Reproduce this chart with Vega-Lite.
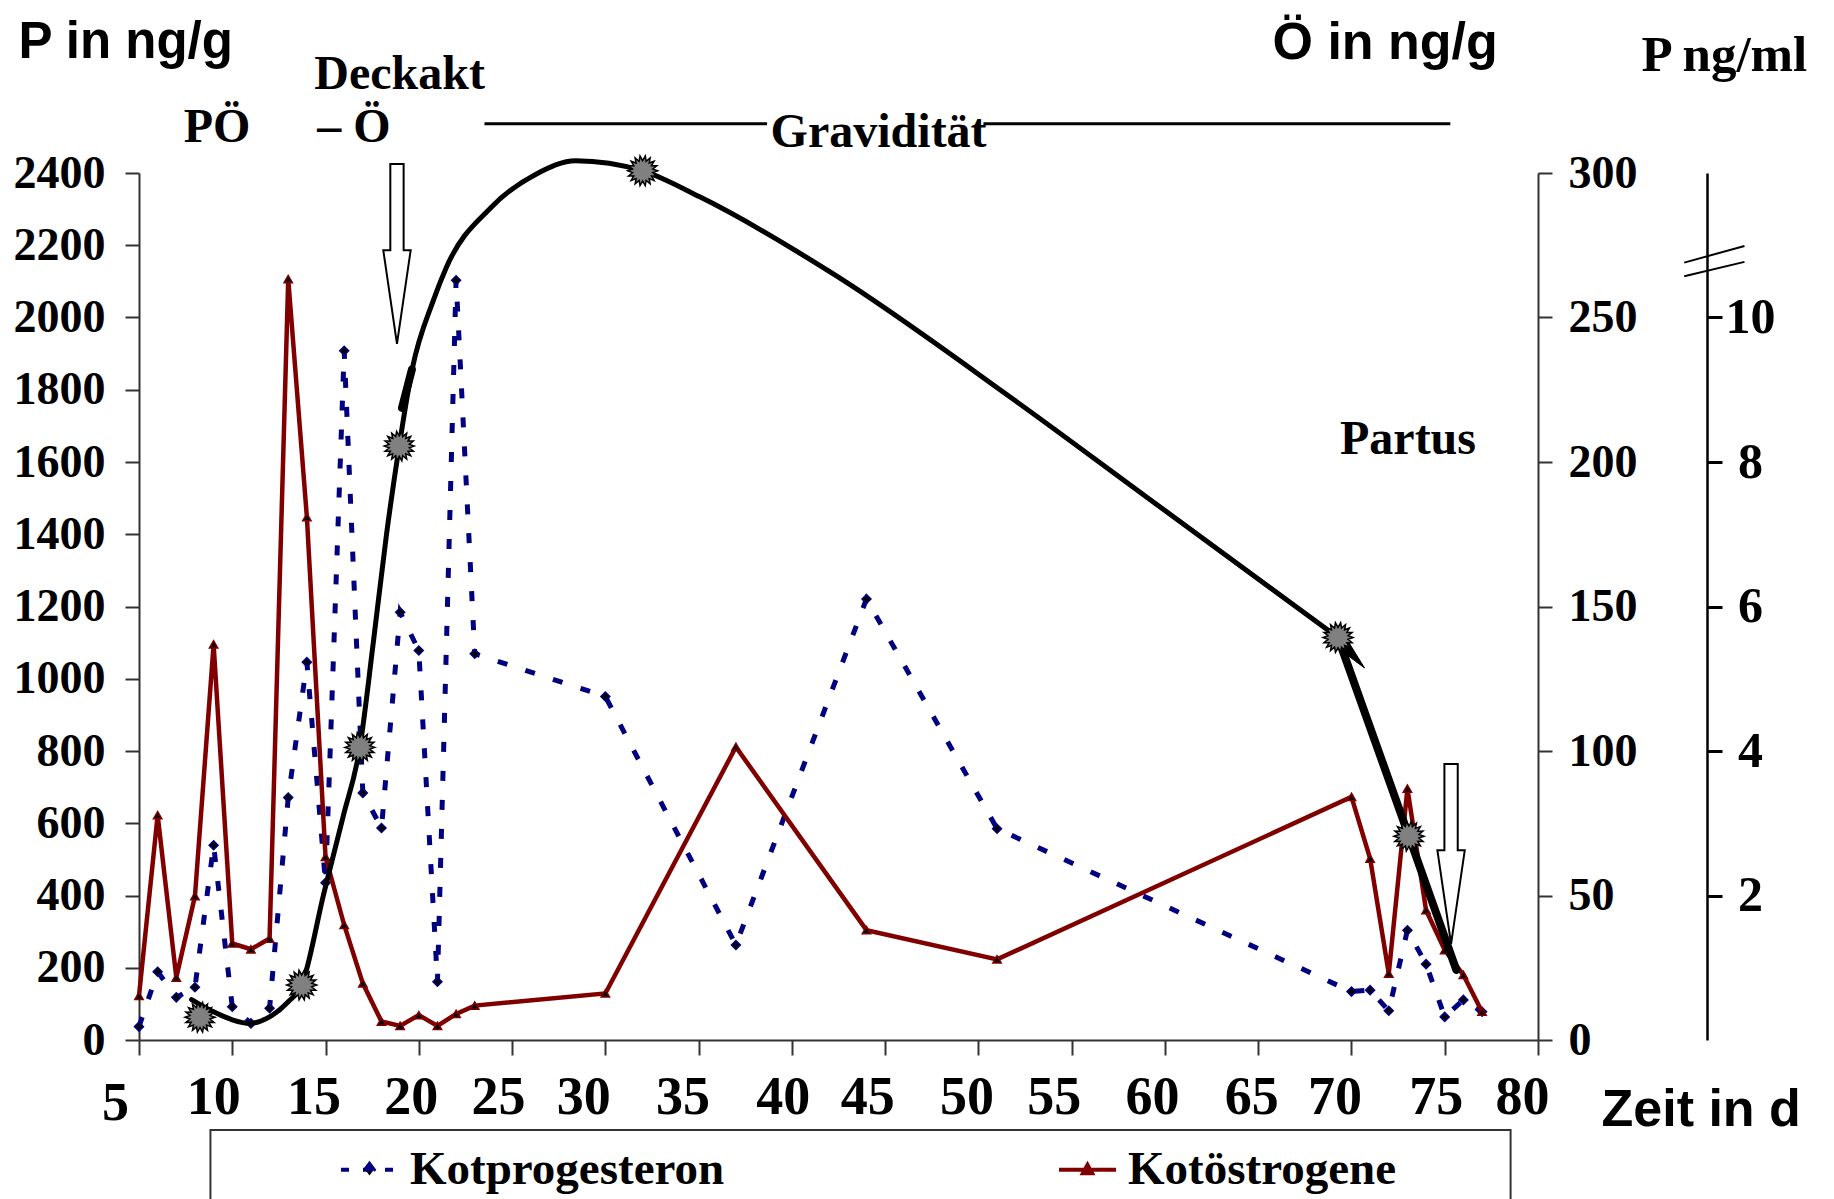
{
  "$schema": "https://vega.github.io/schema/vega-lite/v6.json",
  "width": 1399,
  "height": 867,
  "autosize": {"type": "none"},
  "padding": {"left": 139, "top": 173, "right": 296, "bottom": 159},
  "background": "white",
  "config": {"view": {"stroke": null}, "axis": {"grid": false}},
  "datasets": {
    "kp": [
      {"day": 5, "p": 37, "series": "Kotprogesteron"},
      {"day": 6, "p": 189, "series": "Kotprogesteron"},
      {"day": 7, "p": 118, "series": "Kotprogesteron"},
      {"day": 8, "p": 146, "series": "Kotprogesteron"},
      {"day": 9, "p": 539, "series": "Kotprogesteron"},
      {"day": 10, "p": 92, "series": "Kotprogesteron"},
      {"day": 11, "p": 46, "series": "Kotprogesteron"},
      {"day": 12, "p": 88, "series": "Kotprogesteron"},
      {"day": 13, "p": 671, "series": "Kotprogesteron"},
      {"day": 14, "p": 1046, "series": "Kotprogesteron"},
      {"day": 15, "p": 435, "series": "Kotprogesteron"},
      {"day": 16, "p": 1908, "series": "Kotprogesteron"},
      {"day": 17, "p": 684, "series": "Kotprogesteron"},
      {"day": 18, "p": 587, "series": "Kotprogesteron"},
      {"day": 19, "p": 1184, "series": "Kotprogesteron"},
      {"day": 20, "p": 1078, "series": "Kotprogesteron"},
      {"day": 21, "p": 161, "series": "Kotprogesteron"},
      {"day": 22, "p": 2103, "series": "Kotprogesteron"},
      {"day": 23, "p": 1069, "series": "Kotprogesteron"},
      {"day": 30, "p": 951, "series": "Kotprogesteron"},
      {"day": 37, "p": 263, "series": "Kotprogesteron"},
      {"day": 44, "p": 1221, "series": "Kotprogesteron"},
      {"day": 51, "p": 585, "series": "Kotprogesteron"},
      {"day": 70, "p": 134, "series": "Kotprogesteron"},
      {"day": 71, "p": 138, "series": "Kotprogesteron"},
      {"day": 72, "p": 81, "series": "Kotprogesteron"},
      {"day": 73, "p": 304, "series": "Kotprogesteron"},
      {"day": 74, "p": 210, "series": "Kotprogesteron"},
      {"day": 75, "p": 64, "series": "Kotprogesteron"},
      {"day": 76, "p": 111, "series": "Kotprogesteron"},
      {"day": 77, "p": 78, "series": "Kotprogesteron"}
    ],
    "koe": [
      {"day": 5, "oe": 15.3, "series": "Kotöstrogene"},
      {"day": 6, "oe": 77.8, "series": "Kotöstrogene"},
      {"day": 7, "oe": 21.6, "series": "Kotöstrogene"},
      {"day": 8, "oe": 49.8, "series": "Kotöstrogene"},
      {"day": 9, "oe": 136.9, "series": "Kotöstrogene"},
      {"day": 10, "oe": 33.4, "series": "Kotöstrogene"},
      {"day": 11, "oe": 31.4, "series": "Kotöstrogene"},
      {"day": 12, "oe": 35.1, "series": "Kotöstrogene"},
      {"day": 13, "oe": 263.3, "series": "Kotöstrogene"},
      {"day": 14, "oe": 180.9, "series": "Kotöstrogene"},
      {"day": 15, "oe": 63.4, "series": "Kotöstrogene"},
      {"day": 16, "oe": 39.8, "series": "Kotöstrogene"},
      {"day": 17, "oe": 19.6, "series": "Kotöstrogene"},
      {"day": 18, "oe": 6.4, "series": "Kotöstrogene"},
      {"day": 19, "oe": 4.9, "series": "Kotöstrogene"},
      {"day": 20, "oe": 8.6, "series": "Kotöstrogene"},
      {"day": 21, "oe": 4.9, "series": "Kotöstrogene"},
      {"day": 22, "oe": 9.0, "series": "Kotöstrogene"},
      {"day": 23, "oe": 11.9, "series": "Kotöstrogene"},
      {"day": 30, "oe": 16.1, "series": "Kotöstrogene"},
      {"day": 37, "oe": 101.4, "series": "Kotöstrogene"},
      {"day": 44, "oe": 38.0, "series": "Kotöstrogene"},
      {"day": 51, "oe": 27.9, "series": "Kotöstrogene"},
      {"day": 70, "oe": 84.1, "series": "Kotöstrogene"},
      {"day": 71, "oe": 62.8, "series": "Kotöstrogene"},
      {"day": 72, "oe": 23.0, "series": "Kotöstrogene"},
      {"day": 73, "oe": 87.0, "series": "Kotöstrogene"},
      {"day": 74, "oe": 44.9, "series": "Kotöstrogene"},
      {"day": 75, "oe": 31.1, "series": "Kotöstrogene"},
      {"day": 76, "oe": 22.5, "series": "Kotöstrogene"},
      {"day": 77, "oe": 9.8, "series": "Kotöstrogene"}
    ],
    "curve": [
      {"day": 7.82, "pml": 0.56},
      {"day": 9.0, "pml": 0.39},
      {"day": 10.0, "pml": 0.28},
      {"day": 10.95, "pml": 0.23},
      {"day": 12.0, "pml": 0.32},
      {"day": 13.0, "pml": 0.53},
      {"day": 13.72, "pml": 0.76},
      {"day": 14.91, "pml": 2.03},
      {"day": 15.95, "pml": 3.1},
      {"day": 16.84, "pml": 4.05},
      {"day": 17.56, "pml": 5.5},
      {"day": 18.27, "pml": 7.0},
      {"day": 18.95, "pml": 8.22},
      {"day": 19.65, "pml": 9.29},
      {"day": 20.77, "pml": 10.23},
      {"day": 21.47, "pml": 10.69},
      {"day": 23.86, "pml": 11.52},
      {"day": 26.26, "pml": 11.98},
      {"day": 28.41, "pml": 12.17},
      {"day": 32.0, "pml": 12.03},
      {"day": 35.06, "pml": 11.67},
      {"day": 42.24, "pml": 10.6},
      {"day": 51.7, "pml": 8.9},
      {"day": 58.99, "pml": 7.52},
      {"day": 69.28, "pml": 5.57}
    ],
    "thick": [
      {"day": 19.1, "pml": 8.75, "part": "a"},
      {"day": 19.63, "pml": 9.28, "part": "a"},
      {"day": 69.28, "pml": 5.57, "part": "b"},
      {"day": 73.08, "pml": 2.82, "part": "b"},
      {"day": 75.62, "pml": 0.97, "part": "b"}
    ],
    "stars": [
      {"day": 8.27, "pml": 0.315},
      {"day": 13.72, "pml": 0.76},
      {"day": 16.84, "pml": 4.05},
      {"day": 18.95, "pml": 8.22},
      {"day": 32.0, "pml": 12.03},
      {"day": 69.28, "pml": 5.57},
      {"day": 73.08, "pml": 2.82}
    ],
    "tip": [
      {"day": 70.0, "pml": 5.33}
    ],
    "arrows": [
      {"day": 18.83, "p": 2176},
      {"day": 75.34, "p": 515}
    ],
    "labels": [
      {"day": 18.97, "p": 2632, "t": "Deckakt"},
      {"day": 9.18, "p": 2487, "t": "PÖ"},
      {"day": 16.52, "p": 2487, "t": "–  Ö"},
      {"day": 44.65, "p": 2473, "t": "Gravidität"},
      {"day": 73.03, "p": 1622, "t": "Partus"}
    ],
    "gravlines": [
      {"day": 23.52, "day2": 38.67, "p": 2536},
      {"day": 50.27, "day2": 75.3, "p": 2536}
    ],
    "legendbox": [
      {"day": 8.83, "day2": 78.53, "p": -249, "p2": -700}
    ],
    "breakmark": [
      {"day": 87.84, "day2": 91.07, "pml": 10.76, "pml2": 10.99},
      {"day": 87.84, "day2": 91.07, "pml": 10.57, "pml2": 10.77}
    ]
  },
  "encoding": {
    "x": {
      "field": "day", "type": "quantitative",
      "scale": {"domain": [5, 80], "nice": false},
      "axis": {
        "values": [5, 10, 15, 20, 25, 30, 35, 40, 45, 50, 55, 60, 65, 70, 75, 80],
        "title": "Zeit in d",
        "tickSize": 15, "tickWidth": 2, "tickColor": "#333",
        "domainColor": "#333", "domainWidth": 2,
        "labelFont": "Liberation Serif", "labelFontWeight": "bold", "labelFontSize": 54, "labelColor": "black",
        "labelPadding": {"condition": {"test": "datum.value == 5", "value": 21}, "value": 15},
        "labelOffset": {
          "condition": [
            {"test": "datum.value == 5", "value": -24},
            {"test": "datum.value == 10", "value": -19},
            {"test": "datum.value == 15", "value": -12},
            {"test": "datum.value == 20", "value": -8},
            {"test": "datum.value == 25", "value": -14},
            {"test": "datum.value == 30", "value": -22},
            {"test": "datum.value == 35", "value": -16},
            {"test": "datum.value == 40", "value": -9},
            {"test": "datum.value == 45", "value": -18},
            {"test": "datum.value == 50", "value": -12},
            {"test": "datum.value == 55", "value": -18},
            {"test": "datum.value == 60", "value": -13},
            {"test": "datum.value == 65", "value": -7},
            {"test": "datum.value == 70", "value": -17},
            {"test": "datum.value == 75", "value": -9}
          ],
          "value": -16
        },
        "labelFlush": false, "labelOverlap": false, "labelBound": false,
        "titleFont": "Liberation Sans", "titleFontWeight": "bold", "titleFontSize": 52, "titleColor": "black",
        "titleX": 1462, "titleY": 85, "titleAlign": "left", "titleBaseline": "alphabetic"
      }
    }
  },
  "layer": [
    {
      "encoding": {
        "y": {
          "field": "p", "type": "quantitative",
          "scale": {"domain": [0, 2400], "nice": false},
          "axis": {
            "orient": "left",
            "values": [0, 200, 400, 600, 800, 1000, 1200, 1400, 1600, 1800, 2000, 2200, 2400],
            "format": "d",
            "tickSize": 14, "tickWidth": 2, "tickColor": "#333",
            "domainColor": "#333", "domainWidth": 2,
            "labelFont": "Liberation Serif", "labelFontWeight": "bold", "labelFontSize": 46, "labelColor": "black",
            "labelPadding": 20, "labelFlush": false, "labelOverlap": false,
            "title": "P in ng/g",
            "titleFont": "Liberation Sans", "titleFontWeight": "bold", "titleFontSize": 51, "titleColor": "black",
            "titleAngle": 0, "titleX": -121, "titleY": -116, "titleAlign": "left", "titleBaseline": "alphabetic"
          }
        }
      },
      "layer": [
        {
          "data": {"name": "kp"},
          "mark": {"type": "line", "strokeWidth": 5, "strokeDash": [10, 19], "strokeCap": "butt"},
          "encoding": {
            "color": {
              "field": "series", "type": "nominal",
              "scale": {"domain": ["Kotprogesteron", "Kotöstrogene"], "range": ["#000080", "#800000"]},
              "legend": {
                "title": null, "orient": "none", "legendX": 200, "legendY": 966, "direction": "horizontal",
                "columnPadding": 326, "padding": 0, "labelOffset": 10, "labelLimit": 0,
                "labelFont": "Liberation Serif", "labelFontWeight": "bold", "labelFontSize": 47, "labelColor": "black",
                "symbolSize": 3249, "symbolStrokeWidth": 4, "symbolType": "stroke",
                "encode": {
                  "symbols": {
                    "update": {
                      "shape": [
                        {"test": "datum.value === 'Kotprogesteron'", "value": "M-1,0L1,0M0,-0.2L0.15,0L0,0.2L-0.15,0Z"},
                        {"value": "M-1,0L1,0M0,-0.17L0.16,0.12L-0.16,0.12Z"}
                      ],
                      "strokeDash": [
                        {"test": "datum.value === 'Kotprogesteron'", "value": [8, 14]},
                        {"value": [1, 0]}
                      ],
                      "fill": {"value": "black"}
                    }
                  }
                }
              }
            }
          }
        },
        {
          "data": {"name": "kp"},
          "mark": {"type": "point", "shape": "diamond", "filled": true, "fill": "black", "stroke": "#000080", "strokeWidth": 1.5, "size": 80, "opacity": 1}
        },
        {
          "data": {"name": "gravlines"},
          "mark": {"type": "rule", "strokeWidth": 3, "color": "black"},
          "encoding": {"x2": {"field": "day2"}}
        },
        {
          "data": {"name": "labels"},
          "mark": {"type": "text", "font": "Liberation Serif", "fontWeight": "bold", "fontSize": 48, "align": "center", "baseline": "alphabetic", "color": "black"},
          "encoding": {"text": {"field": "t"}}
        },
        {
          "data": {"name": "arrows"},
          "mark": {"type": "point", "shape": "M-0.074,-1L0.074,-1L0.074,-0.04L0.152,-0.04L0,1L-0.152,-0.04L-0.074,-0.04Z", "size": 32400, "filled": true, "fill": "white", "stroke": "black", "strokeWidth": 2, "opacity": 1}
        },
        {
          "data": {"name": "legendbox"},
          "mark": {"type": "rect", "fill": "transparent", "stroke": "#333", "strokeWidth": 2},
          "encoding": {"x2": {"field": "day2"}, "y2": {"field": "p2"}}
        }
      ]
    },
    {
      "encoding": {
        "y": {
          "field": "oe", "type": "quantitative",
          "scale": {"domain": [0, 300], "nice": false},
          "axis": {
            "orient": "right",
            "values": [0, 50, 100, 150, 200, 250, 300],
            "format": "d",
            "tickSize": 14, "tickWidth": 2, "tickColor": "#333",
            "domainColor": "#333", "domainWidth": 2,
            "labelFont": "Liberation Serif", "labelFontWeight": "bold", "labelFontSize": 46, "labelColor": "black",
            "labelPadding": 16, "labelFlush": false, "labelOverlap": false,
            "title": "Ö in ng/g",
            "titleFont": "Liberation Sans", "titleFontWeight": "bold", "titleFontSize": 52, "titleColor": "black",
            "titleAngle": 0, "titleX": -266, "titleY": -115, "titleAlign": "left", "titleBaseline": "alphabetic"
          }
        }
      },
      "layer": [
        {
          "data": {"name": "koe"},
          "mark": {"type": "line", "strokeWidth": 4.5, "strokeJoin": "miter"},
          "encoding": {
            "color": {
              "field": "series", "type": "nominal",
              "scale": {"domain": ["Kotprogesteron", "Kotöstrogene"], "range": ["#000080", "#800000"]},
              "legend": null
            }
          }
        },
        {
          "data": {"name": "koe"},
          "mark": {"type": "point", "shape": "triangle-up", "filled": true, "fill": "black", "stroke": "#800000", "strokeWidth": 1.5, "size": 70, "opacity": 1}
        }
      ]
    },
    {
      "encoding": {
        "y": {
          "field": "pml", "type": "quantitative",
          "scale": {"domain": [0, 12], "nice": false},
          "axis": {
            "orient": "right", "offset": 169,
            "values": [2, 4, 6, 8, 10],
            "format": "d",
            "tickSize": 15, "tickWidth": 3, "tickColor": "black",
            "domainColor": "black", "domainWidth": 2.5,
            "labelFont": "Liberation Serif", "labelFontWeight": "bold", "labelFontSize": 50, "labelColor": "black",
            "labelAlign": "center", "labelPadding": 28, "labelFlush": false, "labelOverlap": false,
            "title": "P ng/ml",
            "titleFont": "Liberation Serif", "titleFontWeight": "bold", "titleFontSize": 51, "titleColor": "black",
            "titleAngle": 0, "titleX": -66, "titleY": -103, "titleAlign": "left", "titleBaseline": "alphabetic"
          }
        }
      },
      "layer": [
        {
          "data": {"name": "curve"},
          "mark": {"type": "line", "interpolate": "monotone", "strokeWidth": 5, "color": "black", "strokeCap": "round"}
        },
        {
          "data": {"name": "thick"},
          "mark": {"type": "line", "strokeWidth": 8, "color": "black", "strokeCap": "round"},
          "encoding": {"detail": {"field": "part"}}
        },
        {
          "data": {"name": "tip"},
          "mark": {"type": "point", "shape": "M-0.93,-0.47L-0.2,-0.87L0.87,0.87Z", "size": 900, "filled": true, "fill": "black", "stroke": "black", "strokeWidth": 1, "opacity": 1}
        },
        {
          "data": {"name": "stars"},
          "mark": {"type": "point", "shape": "M1,0L0.67,0.118L0.94,0.342L0.589,0.34L0.766,0.643L0.437,0.521L0.5,0.866L0.233,0.639L0.174,0.985L0,0.68L-0.174,0.985L-0.233,0.639L-0.5,0.866L-0.437,0.521L-0.766,0.643L-0.589,0.34L-0.94,0.342L-0.67,0.118L-1,0L-0.67,-0.118L-0.94,-0.342L-0.589,-0.34L-0.766,-0.643L-0.437,-0.521L-0.5,-0.866L-0.233,-0.639L-0.174,-0.985L0,-0.68L0.174,-0.985L0.233,-0.639L0.5,-0.866L0.437,-0.521L0.766,-0.643L0.589,-0.34L0.94,-0.342L0.67,-0.118Z", "size": 900, "filled": true, "fill": "#808080", "stroke": "black", "strokeWidth": 1.5, "opacity": 1}
        },
        {
          "data": {"name": "breakmark"},
          "mark": {"type": "rule", "strokeWidth": 2, "color": "black"},
          "encoding": {"x2": {"field": "day2"}, "y2": {"field": "pml2"}}
        }
      ]
    }
  ],
  "resolve": {"scale": {"y": "independent"}}
}
